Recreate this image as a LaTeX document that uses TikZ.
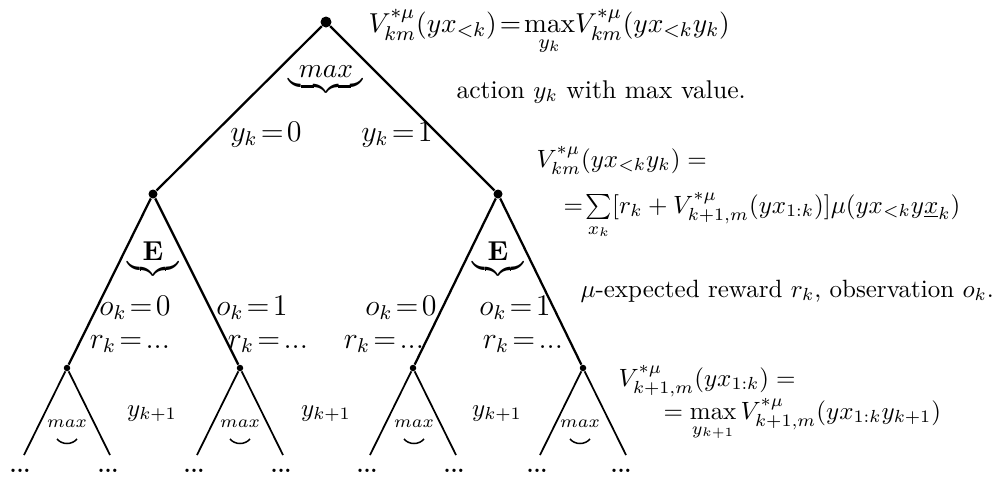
\documentclass[tikz,border=0pt]{standalone}
\usepackage{amsmath}
\begin{document}
\begin{tikzpicture}[x=0.4pt,y=-0.4pt,
  dotA/.style={circle,fill=black,inner sep=0pt,minimum size=4.4pt},
  dotB/.style={circle,fill=black,inner sep=0pt,minimum size=3.6pt},
  dotC/.style={circle,fill=black,inner sep=0pt,minimum size=2.6pt},
  branch/.style={line width=0.9pt},
  leaf/.style={line width=0.7pt},
  lab/.style={anchor=base,inner sep=0pt,font=\fontsize{12}{14}\selectfont},
  eqn/.style={anchor=base west,inner sep=0pt,font=\fontsize{9.9}{12}\selectfont},
  bigeqn/.style={anchor=base west,inner sep=0pt,font=\fontsize{11.1}{14}\selectfont},
  txt/.style={anchor=base west,inner sep=0pt,font=\fontsize{10.25}{13}\selectfont},
  small/.style={anchor=base,inner sep=0pt,font=\fontsize{7.5}{9}\selectfont},
  ylab/.style={anchor=base,inner sep=0pt,font=\fontsize{10}{12}\selectfont},
  dots/.style={anchor=base,inner sep=0pt,font=\fontsize{8.5}{9}\selectfont}]
\useasboundingbox (0,0) rectangle (995,481);
% nodes
\node[dotA] (r) at (326,22) {};
\node[dotB] (a) at (153,194) {};
\node[dotB] (b) at (498,194) {};
\node[dotC] (aa) at (67,368) {};
\node[dotC] (ab) at (240,368) {};
\node[dotC] (ba) at (413,368) {};
\node[dotC] (bb) at (583,368) {};
\foreach \n/\x in {aa/67,ab/240,ba/413,bb/583}{
  \coordinate (\n l) at (\x-43,455);
  \coordinate (\n r) at (\x+43,455);
}
% edges
\draw[branch] (r) -- (a);
\draw[branch] (r) -- (b);
\draw[branch] (a) -- (aa);
\draw[branch] (a) -- (ab);
\draw[branch] (b) -- (ba);
\draw[branch] (b) -- (bb);
\foreach \n in {aa,ab,ba,bb}{
  \draw[leaf] (\n) -- (\n l);
  \draw[leaf] (\n) -- (\n r);
}
% braces
\node[lab,font=\fontsize{11}{13}\selectfont] (mx) at (326,77) {$\underbrace{\hskip4pt max\hskip4pt}$};
\node[lab,font=\fontsize{10.5}{13}\selectfont] (ea) at (153,260) {$\underbrace{\hskip6pt\mathbf{E}\hskip6pt}$};
\node[lab,font=\fontsize{10.5}{13}\selectfont] (eb) at (498,260) {$\underbrace{\hskip6pt\mathbf{E}\hskip6pt}$};
% edge labels
\node[lab] (l1) at (266,141) {$y_k\!=\!0$};
\node[lab] (l2) at (397,141) {$y_k\!=\!1$};
\node[lab] (o1) at (135,315) {$o_k\!=\!0$};
\node[lab] (o2) at (252,315) {$o_k\!=\!1$};
\node[lab] (o3) at (401,315) {$o_k\!=\!0$};
\node[lab] (o4) at (515,315) {$o_k\!=\!1$};
\node[lab] (r1) at (130,348) {$r_k\!=\!...$};
\node[lab] (r2) at (268,348) {$r_k\!=\!...$};
\node[lab] (r3) at (384,348) {$r_k\!=\!...$};
\node[lab] (r4) at (523,348) {$r_k\!=\!...$};
\node[ylab] (y1) at (152,416) {$y_{k+1}$};
\node[ylab] (y2) at (326,416) {$y_{k+1}$};
\node[ylab] (y3) at (497,416) {$y_{k+1}$};
% small max
\foreach \n/\x in {aa/67,ab/240,ba/414,bb/580}{
  \node[small] (m\n) at (\x,427) {$max$};
  \draw[line width=0.6pt] (\x-10,439) .. controls (\x-5,445) and (\x+5,445) .. (\x+10,439);
}
% dots
\foreach \x [count=\i] in {20,108,194,281,367,454,537,621}{
  \node[dots] (d\i) at (\x,472) {\textbf{...}};
}
% right-hand texts
\node[bigeqn] (f1) at (368,32) {$V^{*\mu}_{km}(yx_{<k})\!=\!\max\limits_{y_k}\!V^{*\mu}_{km}(yx_{<k}y_k)$};
\node[txt] (t1) at (456,98) {action $y_k$ with max value.};
\node[eqn,font=\fontsize{9.7}{12}\selectfont] (f2a) at (536,167) {$V^{*\mu}_{km}(yx_{<k}y_k)=$};
\node[eqn,font=\fontsize{10.3}{12}\selectfont] (f2b) at (563,213) {$=\!\sum\limits_{x_k}[r_k+V^{*\mu}_{k+1,m}(yx_{1:k})]\mu(yx_{<k}y\underline{x}_k)$};
\node[eqn,font=\fontsize{10}{12}\selectfont] (t2) at (580,297) {$\mu$-expected reward $r_k$, observation $o_k$.};
\node[eqn] (f3a) at (618,386) {$V^{*\mu}_{k+1,m}(yx_{1:k})=$};
\node[eqn] (f3b) at (663,419) {$=\max\limits_{y_{k+1}}V^{*\mu}_{k+1,m}(yx_{1:k}y_{k+1})$};
\end{tikzpicture}
\end{document}
